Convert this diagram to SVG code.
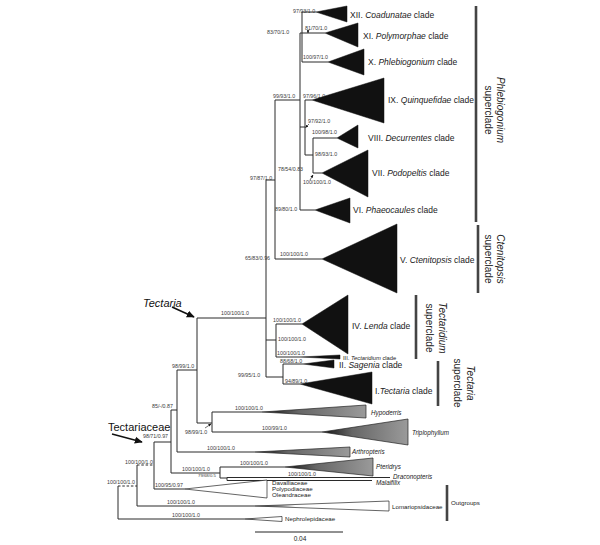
<svg xmlns="http://www.w3.org/2000/svg" width="600" height="545" viewBox="0 0 600 545">
<style>
.b{fill:none;stroke:#2a2a2a;stroke-width:1}
.d{stroke-dasharray:2.5,1.8}
.s{font-family:"Liberation Sans",Arial,sans-serif;font-size:5.3px;fill:#3a3a3a}
.t{font-family:"Liberation Sans",Arial,sans-serif;font-size:4.3px;fill:#3a3a3a}
.c{font-family:"Liberation Sans",Arial,sans-serif;font-size:8.5px;fill:#222}
.cs{font-family:"Liberation Sans",Arial,sans-serif;font-size:5.8px;fill:#222}
.g{font-family:"Liberation Sans",Arial,sans-serif;font-size:6.3px;font-style:italic;fill:#222}
.f{font-family:"Liberation Sans",Arial,sans-serif;font-size:6.2px;fill:#222}
.sc{font-family:"Liberation Sans",Arial,sans-serif;font-size:10px;fill:#222;text-anchor:middle}
.big{font-family:"Liberation Sans",Arial,sans-serif;font-size:11px;fill:#111}
.i{font-style:italic}
.bar{stroke:#444;stroke-width:2.6}
.k{fill:#111;stroke:#111;stroke-width:0.5}
.gw{fill:url(#gg);stroke:#222;stroke-width:0.7}
.ww{fill:url(#gw);stroke:#222;stroke-width:0.7}
.ar{stroke:#111;stroke-width:1.6;marker-end:url(#ah)}
.sa{stroke:#111;stroke-width:0.6;marker-end:url(#ah2)}
</style>
<defs>
<linearGradient id="gg" x1="0" y1="0" x2="1" y2="0"><stop offset="0" stop-color="#111"/><stop offset="0.35" stop-color="#666"/><stop offset="1" stop-color="#9a9a9a"/></linearGradient>
<linearGradient id="gw" x1="0" y1="0" x2="1" y2="0"><stop offset="0" stop-color="#111"/><stop offset="0.3" stop-color="#fff"/><stop offset="1" stop-color="#fff"/></linearGradient>
<marker id="ah" viewBox="0 0 10 10" refX="9" refY="5" markerWidth="5" markerHeight="5" orient="auto"><path d="M0,0.5 L10,5 L0,9.5 z" fill="#111"/></marker>
<marker id="ah2" viewBox="0 0 10 10" refX="9" refY="5" markerWidth="3" markerHeight="3" markerUnits="userSpaceOnUse" orient="auto"><path d="M0,0.5 L10,5 L0,9.5 z" fill="#111"/></marker>
</defs>
<rect width="600" height="545" fill="#fff"/>

<g id="connectors">
<path class="b" d="M302,12H316M302,12V62M300,33H325M302,62H328M300,33V210M300,127H305M305,100V155M305,100H312M305,155H313M313,138V173M313,138H337M313,173H322M300,210H315M275,100H300M275,100V259M275,259H322M266,180H275M266,180V377M197,318H266M266,340H276M276,324V357M276,324H302M276,357H300M266,377H283M283,364V384M283,364H303M283,384H300"/>
<path class="b" d="M197,318V423M177,370H197M197,423H212M212,412V432M212,412H262M212,432H322M177,370V452M177,452H255M171,410H177M171,410V473M171,473H220M220,467V478M220,467H285M220,478H227M227,477.5V480.5M227,477.5H390M227,480.5H372M154,442H171M154,442V489M154,489H185M137,465V506M137,506H255M118,486V519M118,519H245"/>
<path class="b d" d="M137,465H154M118,486H137"/>
<line class="ar" x1="172" y1="307" x2="194" y2="317"/>
<line class="ar" x1="112" y1="434" x2="142" y2="442"/>
<line class="sa" x1="309" y1="124" x2="305.5" y2="127.5"/>
<line class="sa" x1="310" y1="180" x2="313" y2="175"/>
<line class="sa" x1="205" y1="428" x2="211" y2="424"/>
<line class="sa" x1="308" y1="30" x2="308" y2="33"/>
</g>

<g id="support">
<text class="s" x="293" y="13">97/93/1.0</text>
<text class="s" x="267" y="34">83/70/1.0</text>
<text class="s" x="305" y="30">81/70/1.0</text>
<text class="s" x="303" y="59">100/97/1.0</text>
<text class="s" x="273" y="98">99/93/1.0</text>
<text class="s" x="303" y="98">97/96/1.0</text>
<text class="s" x="308" y="123">97/92/1.0</text>
<text class="s" x="312" y="134">100/98/1.0</text>
<text class="s" x="315" y="156">98/93/1.0</text>
<text class="s" x="303" y="184">100/100/1.0</text>
<text class="s" x="278" y="171">78/54/0.83</text>
<text class="s" x="275" y="211">89/80/1.0</text>
<text class="s" x="250" y="180">97/87/1.0</text>
<text class="s" x="280" y="256">100/100/1.0</text>
<text class="s" x="245" y="260">65/83/0.96</text>
<text class="s" x="221" y="315">100/100/1.0</text>
<text class="s" x="273" y="321.5">100/100/1.0</text>
<text class="s" x="278" y="341">100/100/1.0</text>
<text class="s" x="277" y="355">100/100/1.0</text>
<text class="s" x="280" y="362.5">88/68/1.0</text>
<text class="s" x="238" y="377">99/95/1.0</text>
<text class="s" x="285" y="382.5">94/89/1.0</text>
<text class="s" x="172" y="368">98/99/1.0</text>
<text class="s" x="235" y="410">100/100/1.0</text>
<text class="s" x="152" y="408">85/-/0.87</text>
<text class="s" x="185" y="434">98/99/1.0</text>
<text class="s" x="262" y="430">100/99/1.0</text>
<text class="s" x="143" y="438">98/71/0.97</text>
<text class="s" x="207" y="450">100/100/1.0</text>
<text class="s" x="240" y="465">100/100/1.0</text>
<text class="s" x="182" y="471">100/100/1.0</text>
<text class="t" x="198" y="477">79/68/0.5</text>
<text class="s" x="288" y="476">100/100/1.0</text>
<text class="s" x="155" y="487">100/95/0.97</text>
<text class="s" x="125" y="463.5">100/100/1.0</text>
<text class="s" x="107" y="484">100/100/1.0</text>
<text class="s" x="167" y="504">100/100/1.0</text>
<text class="s" x="172" y="517">100/100/1.0</text>
</g>

<g id="clade-XII"><polygon class="k" points="316,12 347,6 347,22"/><text class="c" x="350" y="18">XII. <tspan class="i">Coadunatae</tspan> clade</text></g>
<g id="clade-XI"><polygon class="k" points="325,33 358,23 358,47"/><text class="c" x="363" y="39">XI. <tspan class="i">Polymorphae</tspan> clade</text></g>
<g id="clade-X"><polygon class="k" points="328,62 364,49 364,75"/><text class="c" x="368" y="65">X. <tspan class="i">Phlebiogonium</tspan> clade</text></g>
<g id="clade-IX"><polygon class="k" points="312,100 384,78 384,123"/><text class="c" x="388" y="103">IX. <tspan class="i">Quinquefidae</tspan> clade</text></g>
<g id="clade-VIII"><polygon class="k" points="337,138 358,125 358,148"/><text class="c" x="368" y="141">VIII. <tspan class="i">Decurrentes</tspan> clade</text></g>
<g id="clade-VII"><polygon class="k" points="322,173 368,150 368,197"/><text class="c" x="372" y="176">VII.  <tspan class="i">Podopeltis</tspan> clade</text></g>
<g id="clade-VI"><polygon class="k" points="315,210 350,198 350,223"/><text class="c" x="353" y="213">VI. <tspan class="i">Phaeocaules</tspan> clade</text></g>
<g id="clade-V"><polygon class="k" points="322,259 397,224 397,293"/><text class="c" x="400" y="263">V. <tspan class="i">Ctenitopsis</tspan> clade</text></g>
<g id="clade-IV"><polygon class="k" points="302,324 348,295 348,354"/><text class="c" x="352" y="329">IV. <tspan class="i">Lenda</tspan> clade</text></g>
<g id="clade-III"><polygon class="k" points="300,357 340,355 340,359"/><text class="cs" x="343" y="360">III. <tspan class="i">Tectaridium</tspan> clade</text></g>
<g id="clade-II"><polygon class="k" points="303,364 334,360 334,368"/><text class="c" x="339" y="368">II. <tspan class="i">Sagenia</tspan> clade</text></g>
<g id="clade-I"><polygon class="k" points="300,384 372,372 372,404"/><text class="c" x="375" y="394">I.<tspan class="i">Tectaria</tspan> clade</text></g>

<g id="hypoderris"><polygon class="gw" points="262,412 366,405 366,418"/><text class="g" x="371" y="415">Hypoderris</text></g>
<g id="triplophyllum"><polygon class="gw" points="322,432 408,419 408,445"/><text class="g" x="412" y="435">Triplophyllum</text></g>
<g id="arthropteris"><polygon class="gw" points="255,452 350,447 350,457"/><text class="g" x="352" y="454">Arthropteris</text></g>
<g id="pteridrys"><polygon class="gw" points="285,467 373,458 373,476"/><text class="g" x="376" y="469">Pteridrys</text></g>
<g id="draconopteris"><text class="g" x="393" y="478.5">Draconopteris</text></g>
<g id="malaifilix"><text class="g" x="376" y="484.5">Malaifilix</text></g>
<g id="davalliaceae"><polygon fill="#fff" stroke="#222" stroke-width="0.7" points="185,489 267,480 267,498"/><text class="f" x="272" y="485">Davalliaceae</text><text class="f" x="272" y="491">Polypodiaceae</text><text class="f" x="272" y="497">Oleandraceae</text></g>
<g id="lomariopsidaceae"><polygon class="ww" points="255,506 389,501 389,511"/><text class="f" x="392" y="509">Lomariopsidaceae</text></g>
<g id="nephrolepidaceae"><polygon class="ww" points="245,519 282,516.5 282,521.5"/><text class="f" x="285" y="521">Nephrolepidaceae</text></g>

<g id="labels">
<text class="big i" x="143" y="307">Tectaria</text>
<text class="big" x="108" y="431">Tectariaceae</text>
</g>

<g id="superclades">
<line class="bar" x1="476" y1="6" x2="476" y2="222"/>
<text class="sc i" transform="translate(496.5,110) rotate(90)">Phlebiogonium</text>
<text class="sc" transform="translate(484.5,110) rotate(90)">superclade</text>
<line class="bar" x1="478" y1="225" x2="478" y2="293"/>
<text class="sc i" transform="translate(496.5,259) rotate(90)">Ctenitopsis</text>
<text class="sc" transform="translate(484.5,259) rotate(90)">superclade</text>
<line class="bar" x1="416" y1="295" x2="416" y2="359"/>
<text class="sc i" transform="translate(438.5,328) rotate(90)">Tectaridium</text>
<text class="sc" transform="translate(426,328) rotate(90)">superclade</text>
<line class="bar" x1="438" y1="361" x2="438" y2="406"/>
<text class="sc i" transform="translate(466.5,383) rotate(90)">Tectaria</text>
<text class="sc" transform="translate(454,383) rotate(90)">superclade</text>
<line class="bar" x1="447" y1="485" x2="447" y2="521"/>
<text class="f" x="451" y="505">Outgroups</text>
</g>

<g id="scale">
<line x1="255" y1="532" x2="343" y2="532" stroke="#222" stroke-width="1"/>
<text class="f" x="300" y="541" text-anchor="middle" style="font-size:6.5px">0.04</text>
</g>
</svg>
